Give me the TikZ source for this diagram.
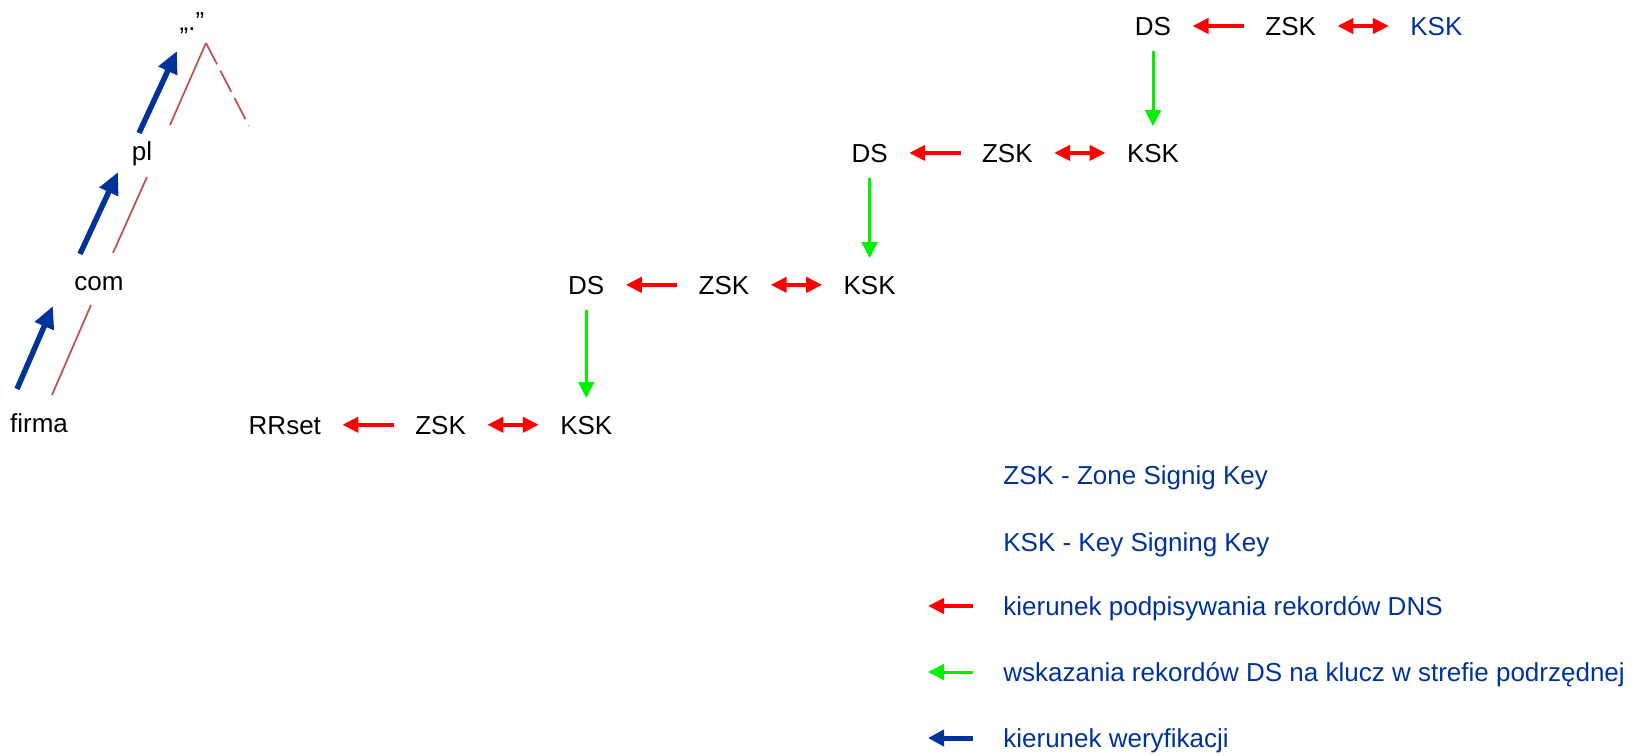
\documentclass[tikz,border=0pt]{standalone}
\usepackage{fontspec}
\setmainfont{Liberation Sans}
\usetikzlibrary{arrows.meta,positioning}
\definecolor{dnsBlue}{RGB}{0,51,153}
\definecolor{dnsRed}{RGB}{255,0,0}
\definecolor{dnsGreen}{RGB}{0,240,0}
\definecolor{dnsBranch}{RGB}{192,80,77}

\begin{document}
\begin{tikzpicture}[
    x=0.02cm,y=-0.02cm,
    node distance=1.03cm,
    label/.style={text height=10.6pt,text depth=0pt,font=\fontsize{14.8}{17.8}\selectfont},
    key/.style={label,inner xsep=12pt,inner ysep=8pt},
    zone/.style={label,inner sep=0pt},
    legend/.style={label,inner sep=0pt,anchor=west,text=dnsBlue},
    sign/.style={-{Triangle[length=3.2mm,width=3mm]},line width=0.8mm,draw=dnsRed},
    signboth/.style={sign,{Triangle[length=3.2mm,width=3mm]}-{Triangle[length=3.2mm,width=3mm]}},
    dslink/.style={-{Triangle[length=3.2mm,width=3.1mm]},line width=0.6mm,draw=dnsGreen,shorten <=1pt,shorten >=1.7pt},
    verif/.style={-{Triangle[length=4.4mm,width=3.9mm]},line width=1.1mm,draw=dnsBlue},
    branch/.style={draw=dnsBranch,line width=0.35mm}
  ]
    \useasboundingbox (0,0) rectangle (1648,756);

    % zone tree
    \node[zone] (firma) at (39,423) {firma};
    \node[zone] (com) at (99,281) {com};
    \node[zone] (pl) at (142,151) {pl};
    \node[zone] (root) at (192,21) {„.”};
    \coordinate (other) at (249,126);

    \draw[branch] ([shift={(13,-28)}]firma.center) -- ([shift={(-8,24)}]com.center);
    \draw[branch] ([shift={(14,-28)}]com.center) -- ([shift={(5,26)}]pl.center);
    \draw[branch] ([shift={(28,-26)}]pl.center) -- ([shift={(14,22)}]root.center);
    \draw[branch,dash pattern=on 0.48cm off 0.14cm] ([shift={(14,22)}]root.center) -- (other);

    \draw[verif] ([shift={(-22,-34)}]firma.center) -- ([shift={(-46,25)}]com.center);
    \draw[verif] ([shift={(-19,-27)}]com.center) -- ([shift={(-24,21)}]pl.center);
    \draw[verif] ([shift={(-3,-18)}]pl.center) -- ([shift={(-15,30)}]root.center);

    % chain of keys
    \node[key] (ds1) at (1153,26) {DS};
    \node[key,right=of ds1] (zsk1) {ZSK};
    \node[key,right=of zsk1,text=dnsBlue] (ksk1) {KSK};

    \node[key,below=1.59cm of ds1] (ksk2) {KSK};
    \node[key,left=of ksk2] (zsk2) {ZSK};
    \node[key,left=of zsk2] (ds2) {DS};

    \node[key,below=1.69cm of ds2] (ksk3) {KSK};
    \node[key,left=of ksk3] (zsk3) {ZSK};
    \node[key,left=of zsk3] (ds3) {DS};

    \node[key,below=1.85cm of ds3] (ksk4) {KSK};
    \node[key,left=of ksk4] (zsk4) {ZSK};
    \node[key,left=of zsk4] (rrset) {RRset};

    \draw[sign] (zsk1) -- (ds1);
    \draw[signboth] (zsk1) -- (ksk1);
    \draw[sign] (zsk2) -- (ds2);
    \draw[signboth] (zsk2) -- (ksk2);
    \draw[sign] (zsk3) -- (ds3);
    \draw[signboth] (zsk3) -- (ksk3);
    \draw[sign] (zsk4) -- (rrset);
    \draw[signboth] (zsk4) -- (ksk4);

    \draw[dslink] (ds1) -- (ksk2);
    \draw[dslink] (ds2) -- (ksk3);
    \draw[dslink] (ds3) -- (ksk4);

    % legend
    \node[legend] (zskdef) at (1003,475) {ZSK - Zone Signig Key};
    \node[legend] (kskdef) at (1003,542) {KSK - Key Signing Key};
    \node[legend] (signdef) at (1003,606) {kierunek podpisywania rekordów DNS};
    \node[legend] (dsdef) at (1003,672) {wskazania rekordów DS na klucz w strefie podrzędnej};
    \node[legend] (verifdef) at (1003,738) {kierunek weryfikacji};

    \draw[sign] ([xshift=-0.6cm]signdef.west) -- ++(-45,0);
    \draw[dslink,shorten <=0pt,shorten >=0pt] ([xshift=-0.6cm]dsdef.west) -- ++(-45,0);
    \draw[verif,line width=0.1cm,-{Triangle[length=3.2mm,width=3.2mm]}] ([xshift=-0.6cm]verifdef.west) -- ++(-45,0);
  \end{tikzpicture}
\end{document}
